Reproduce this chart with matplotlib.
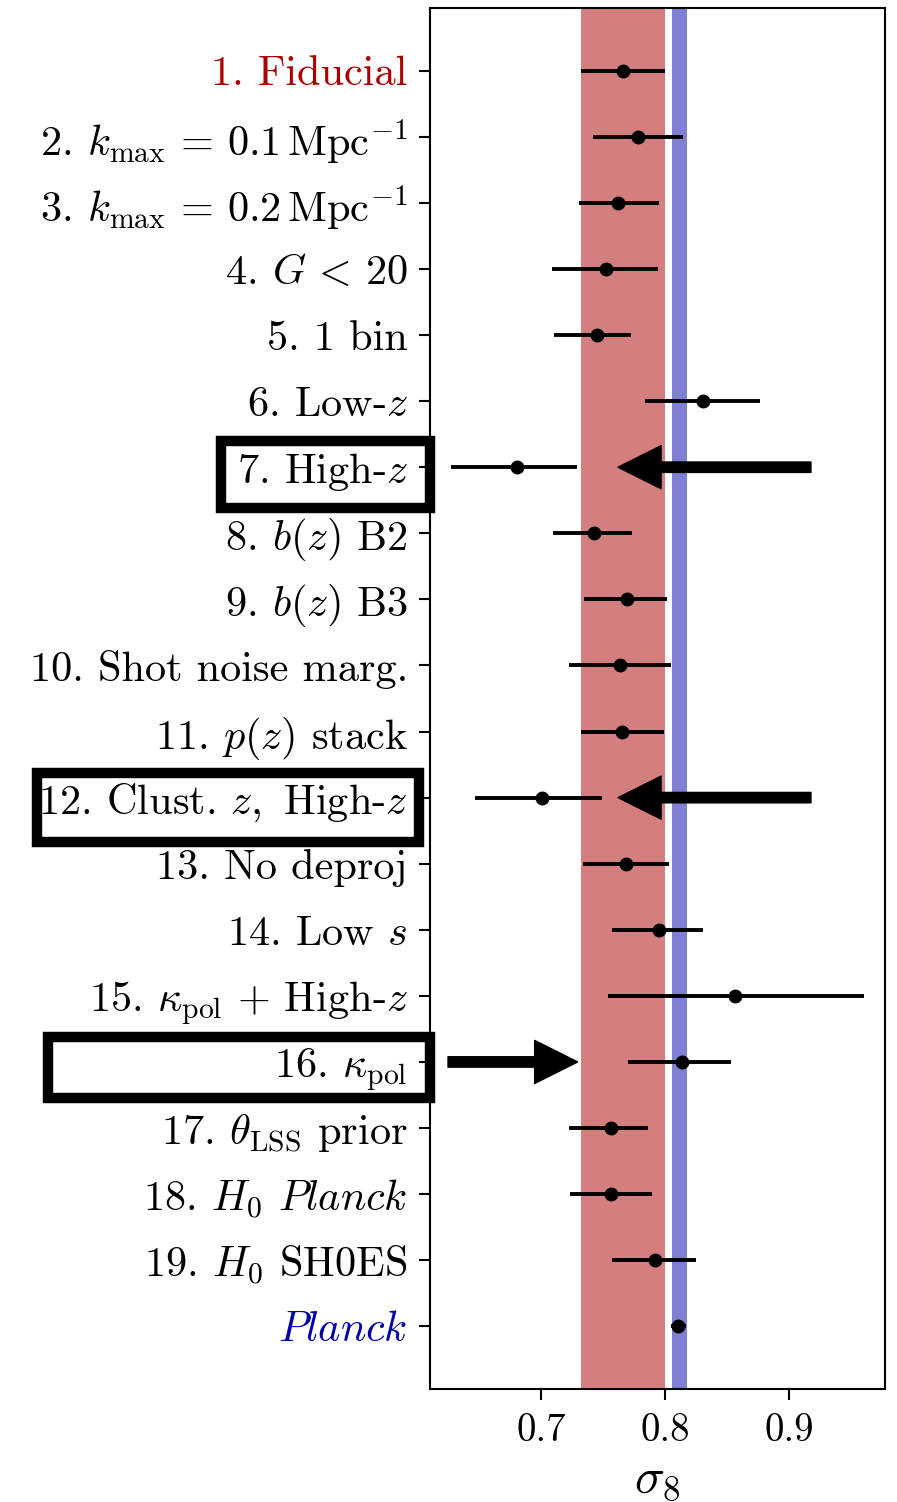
import matplotlib
matplotlib.use('Agg')
import matplotlib.pyplot as plt
from matplotlib.patches import Rectangle

plt.rcParams['font.family'] = 'serif'
plt.rcParams['font.serif'] = ['cmr10']
plt.rcParams['mathtext.fontset'] = 'cm'
plt.rcParams['axes.formatter.use_mathtext'] = True

labels = [
    r'1. Fiducial',
    r'2. $k_{\rm max}\,=\,0.1\,{\rm Mpc}^{-1}$',
    r'3. $k_{\rm max}\,=\,0.2\,{\rm Mpc}^{-1}$',
    r'4. $G\,<\,20$',
    r'5. 1 bin',
    r'6. Low-$z$',
    r'7. High-$z$',
    r'8. $b(z)$ B2',
    r'9. $b(z)$ B3',
    r'10. Shot noise marg.',
    r'11. $p(z)$ stack',
    r'12. ${\rm Clust.}\,z,$ High-$z$',
    r'13. No deproj',
    r'14. Low $s$',
    r'15. $\kappa_{\rm pol}\,+\,{\rm High}$-$z$',
    r'16. $\kappa_{\rm pol}$',
    r'17. $\theta_{\rm LSS}$ prior',
    r'18. $H_0$ $Planck$',
    r'19. $H_0$ SH0ES',
    r'$Planck$',
]
sigma8 = [0.7664, 0.7782, 0.7623, 0.7524, 0.7449, 0.8306, 0.6804, 0.7425, 0.7691, 0.7637,
          0.7656, 0.7008, 0.7688, 0.7954, 0.8565, 0.8135, 0.7565, 0.7562, 0.7919, 0.8107]
sigma8_lo = [0.7323, 0.7419, 0.7306, 0.7089, 0.7105, 0.7839, 0.6274, 0.7099, 0.7347, 0.7226,
             0.7323, 0.6470, 0.7339, 0.7573, 0.7540, 0.7704, 0.7226, 0.7234, 0.7570, 0.8047]
sigma8_hi = [0.8000, 0.8145, 0.7952, 0.7946, 0.7728, 0.8764, 0.7288, 0.7731, 0.8016, 0.8048,
             0.7990, 0.7494, 0.8030, 0.8309, 0.9607, 0.8530, 0.7863, 0.7898, 0.8250, 0.8167]

fid_band = (0.7323, 0.8000)
planck_band = (0.8056, 0.8177)

# arrows: (row, tail x, head x)
arrows = [(6, 0.9177, 0.7621), (11, 0.9177, 0.7621), (15, 0.6250, 0.7296)]

fig = plt.figure(figsize=(8.97, 15.02), dpi=100)
ax = fig.add_axes([0.4794, 0.0752, 0.9866 - 0.4794, 0.9947 - 0.0752])

ax.axvspan(*fid_band, color='#aa0000', alpha=0.5, lw=0)
ax.axvspan(*planck_band, color='#0000aa', alpha=0.5, lw=0)

rows = list(range(len(labels)))
xerr = [[c - l for c, l in zip(sigma8, sigma8_lo)],
        [h - c for c, h in zip(sigma8, sigma8_hi)]]
ax.errorbar(sigma8, rows, xerr=xerr, fmt='o', color='k', ms=9, elinewidth=2.8, capsize=0)

for r, x0, x1 in arrows:
    ax.annotate('', xy=(x1, r), xytext=(x0, r), annotation_clip=False,
                arrowprops=dict(facecolor='k', edgecolor='k', width=7.5, headwidth=31,
                                headlength=31, shrink=0))

ax.set_xlim(0.6105, 0.9774)
ax.set_ylim(19.95, -0.95)
ax.set_yticks(rows)
ax.set_yticklabels(labels, fontsize=30.5)
ax.get_yticklabels()[0].set_color('#aa0000')
ax.get_yticklabels()[-1].set_color('#0000aa')
ax.set_xticks([0.7, 0.8, 0.9])
ax.set_xticklabels(['0.7', '0.8', '0.9'], fontsize=28)
ax.tick_params(axis='y', length=8, width=1.5, pad=8)
ax.tick_params(axis='x', length=8, width=1.5, pad=9)
for s in ax.spines.values():
    s.set_linewidth(1.5)
ax.set_xlabel(r'$\sigma_8$', fontsize=36, labelpad=6)

# boxes around highlighted labels (pixel coordinates of the figure)
W, H = 897, 1502
for x0, y0, x1, y1 in [(221, 441, 430, 508), (37, 773, 419, 842), (48, 1037, 430, 1098)]:
    fig.add_artist(Rectangle((x0 / W, 1 - y1 / H), (x1 - x0) / W, (y1 - y0) / H,
                             transform=fig.transFigure, fill=False, ec='k', lw=7.5))

fig.savefig('out.png', dpi=100)
